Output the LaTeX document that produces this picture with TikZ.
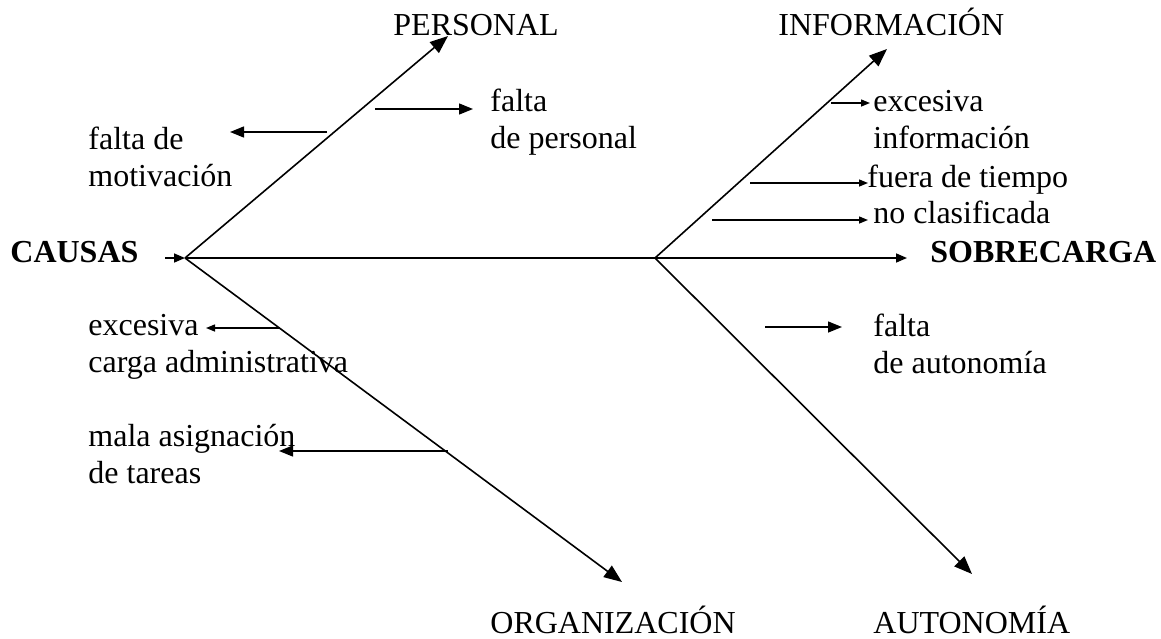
\documentclass[tikz,border=0pt]{standalone}
\usepackage{fontspec}
\setmainfont{Liberation Serif}
\usetikzlibrary{arrows.meta}
\begin{document}
\begin{tikzpicture}[x=0.5pt,y=-0.5pt,
  bone/.style={line width=0.8pt,-{Triangle[length=9pt,width=7pt]}},
  spine/.style={line width=0.8pt,-{Triangle[length=5.5pt,width=4.5pt]}},
  twig/.style={line width=0.7pt,-{Triangle[length=7pt,width=5.5pt]}},
  sprig/.style={line width=0.7pt,-{Triangle[length=4.5pt,width=3.5pt]}},
  lbl/.style={inner sep=0pt,anchor=base west,align=left,font=\fontsize{16}{18.5}\selectfont},
  cab/.style={lbl,font=\fontsize{16}{18.5}\selectfont\bfseries}]
\useasboundingbox (0,0) rectangle (1161,638);

\coordinate (tail) at (165,258);
\coordinate (jl) at (185,258);
\coordinate (jr) at (655,258);
\coordinate (tip) at (907,258);
\coordinate (tp) at (448,36);
\coordinate (to) at (622,582);
\coordinate (ti) at (887,49);
\coordinate (ta) at (972,574);

\node[cab] (causas) at (10,262) {CAUSAS};
\node[cab] (sobrecarga) at (930,262) {SOBRECARGA};
\node[lbl] (personal) at (393,35) {PERSONAL};
\node[lbl] (informacion) at (778,35) {INFORMACIÓN};
\node[lbl] (organizacion) at (490,633) {ORGANIZACIÓN};
\node[lbl] (autonomia) at (873,633) {AUTONOMÍA};

% base = ultima linea
\node[lbl] (motivacion) at (88,186) {falta de\\motivación};
\node[lbl] (faltapers) at (490,148) {falta\\de personal};
\node[lbl] (excinfo) at (873,148) {excesiva\\información};
\node[lbl] (fuera) at (867,187) {fuera de tiempo};
\node[lbl] (noclas) at (873,223) {no clasificada};
\node[lbl] (faltaaut) at (873,373) {falta\\de autonomía};
\node[lbl] (carga) at (88,372) {excesiva\\carga administrativa};
\node[lbl] (tareas) at (88,483) {mala asignación\\de tareas};

% espina y ramas
\draw[spine] (tail) -- (jl);
\draw[spine] (jl) -- (tip);
\draw[bone] (jl) -- (tp);
\draw[bone] (jl) -- (to);
\draw[bone] (jr) -- (ti);
\draw[bone] (jr) -- (ta);

% causas secundarias
\draw[twig] (327,132) -- (230,132);
\draw[twig] (375,109) -- (473,109);
\draw[sprig] (831,103) -- (870,103);
\draw[sprig] (750,183) -- (868,183);
\draw[sprig] (712,220) -- (868,220);
\draw[twig] (765,327) -- (842,327);
\draw[sprig] (280,328) -- (206,328);
\draw[twig] (448,451) -- (279,451);
\end{tikzpicture}
\end{document}
